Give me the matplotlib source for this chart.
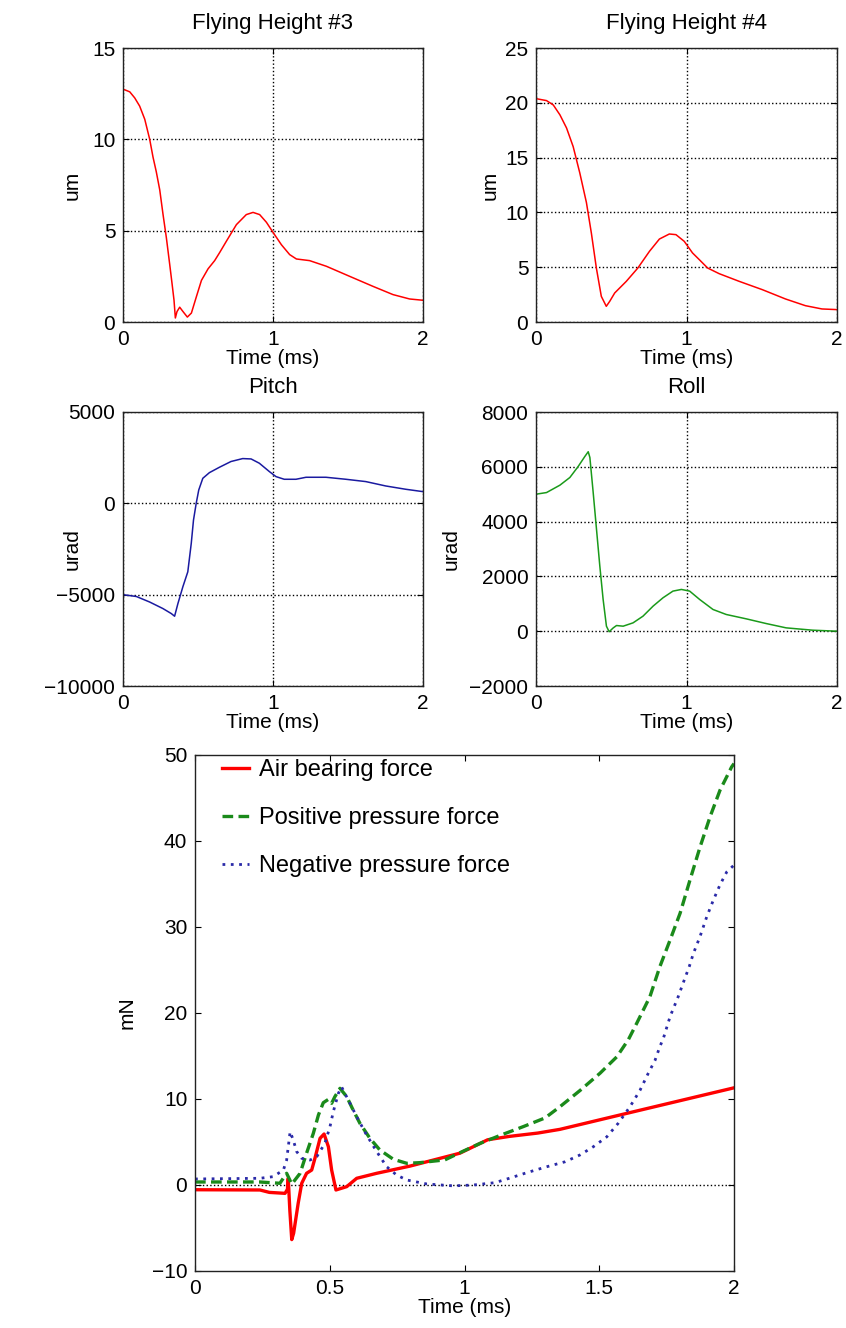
import numpy as np
import matplotlib
matplotlib.use('Agg')
import matplotlib.pyplot as plt

plt.rcParams['font.family'] = ['Liberation Sans', 'DejaVu Sans']
plt.rcParams['font.size'] = 15

# Flying height #3 (um)
t_fh3 = [0, 0.045, 0.078, 0.111, 0.145, 0.178, 0.2, 0.222, 0.245, 0.267, 0.289, 0.311, 0.327,
         0.34, 0.349, 0.36, 0.378, 0.4, 0.429, 0.456, 0.489, 0.523, 0.567, 0.611, 0.645,
         0.689, 0.756, 0.822, 0.867, 0.911, 0.956, 1.0, 1.056, 1.111, 1.156, 1.244, 1.356,
         1.511, 1.667, 1.8, 1.911, 2.0]
fh3 = [12.75, 12.6, 12.27, 11.82, 11.1, 10.0, 9.03, 8.22, 7.23, 5.88, 4.62, 3.18, 2.1,
       1.2, 0.22, 0.57, 0.81, 0.57, 0.27, 0.49, 1.38, 2.28, 2.91, 3.36, 3.81,
       4.42, 5.33, 5.88, 6.0, 5.88, 5.46, 4.91, 4.23, 3.69, 3.45, 3.36, 3.05,
       2.5, 1.95, 1.5, 1.26, 1.19]

# Flying height #4 (um)
t_fh4 = [0, 0.07, 0.115, 0.159, 0.203, 0.247, 0.291, 0.335, 0.368, 0.401, 0.434, 0.467, 0.49,
         0.523, 0.6, 0.677, 0.754, 0.82, 0.886, 0.93, 0.985, 1.04, 1.085, 1.14, 1.217, 1.35,
         1.504, 1.658, 1.79, 1.9, 2.0]
fh4 = [20.38, 20.2, 19.8, 18.9, 17.7, 16.0, 13.6, 10.9, 8.1, 4.93, 2.34, 1.43, 1.89,
       2.65, 3.71, 4.93, 6.45, 7.57, 8.03, 7.97, 7.36, 6.3, 5.69, 4.93, 4.41, 3.71,
       2.95, 2.1, 1.49, 1.19, 1.13]

# Pitch (urad)
t_pitch = [0, 0.089, 0.177, 0.266, 0.322, 0.344, 0.366, 0.399, 0.432, 0.455, 0.47, 0.488, 0.505,
           0.532, 0.576, 0.643, 0.72, 0.798, 0.854, 0.909, 0.976, 1.02, 1.075, 1.153, 1.22,
           1.353, 1.486, 1.619, 1.752, 1.885, 2.0]
pitch = [-5000, -5100, -5400, -5760, -6035, -6180, -5490, -4570, -3750, -2195, -914, 0, 730,
         1370, 1680, 1975, 2290, 2450, 2430, 2195, 1737, 1463, 1317, 1317, 1427,
         1427, 1317, 1190, 950, 770, 640]

# Roll (urad)
t_roll = [0, 0.07, 0.159, 0.225, 0.28, 0.325, 0.347, 0.358, 0.38, 0.402, 0.424, 0.446, 0.468,
          0.486, 0.513, 0.535, 0.579, 0.645, 0.711, 0.778, 0.844, 0.91, 0.966, 1.021, 1.087,
          1.176, 1.264, 1.397, 1.529, 1.662, 1.838, 2.0]
roll = [5000, 5060, 5330, 5610, 6010, 6380, 6550, 6340, 5060, 3720, 2380, 1160, 183,
        -20, 120, 207, 183, 305, 549, 915, 1220, 1463, 1524, 1463, 1160,
        793, 610, 451, 280, 122, 37, 0]

# Forces (mN)
t_air = [0, 0.241, 0.276, 0.334, 0.343, 0.346, 0.352, 0.359, 0.366, 0.383, 0.396, 0.414, 0.433,
         0.445, 0.464, 0.479, 0.495, 0.507, 0.523, 0.563, 0.6, 0.674, 0.798, 0.983, 1.086,
         1.166, 1.272, 1.354, 1.602, 2.0]
air = [-0.55, -0.58, -0.86, -0.97, -0.5, 0.78, -3.0, -6.35, -5.6, -2.1, 0.2, 1.36, 1.74,
       3.1, 5.43, 5.93, 4.45, 1.74, -0.58, -0.19, 0.78, 1.36, 2.2, 3.7, 5.26,
       5.65, 6.04, 6.47, 8.33, 11.3]

t_pos = [0, 0.241, 0.315, 0.34, 0.359, 0.39, 0.414, 0.439, 0.458, 0.476, 0.495, 0.507, 0.519,
         0.538, 0.563, 0.587, 0.612, 0.649, 0.686, 0.736, 0.786, 0.835, 0.927, 0.993, 1.06,
         1.139, 1.219, 1.299, 1.354, 1.429, 1.503, 1.565, 1.608, 1.639, 1.688, 1.725, 1.763,
         1.8, 1.837, 1.874, 1.911, 1.948, 1.991, 2.0]
pos = [0.35, 0.35, 0.2, 1.36, 0.1, 1.36, 3.7, 6.0, 8.14, 9.57, 9.96, 9.5, 10.27,
       11.24, 10.27, 8.7, 7.17, 5.43, 4.07, 2.99, 2.52, 2.6, 2.92, 3.9, 4.87,
       5.85, 6.8, 7.8, 9.1, 11.0, 13.0, 14.9, 16.9, 18.8, 21.9, 25.4, 28.5,
       31.6, 35.5, 39.3, 42.8, 45.9, 48.6, 49.0]

t_neg = [0, 0.241, 0.29, 0.328, 0.34, 0.353, 0.365, 0.377, 0.396, 0.427, 0.452, 0.482, 0.501,
         0.513, 0.532, 0.544, 0.575, 0.6, 0.637, 0.674, 0.711, 0.748, 0.786, 0.86, 0.958,
         1.033, 1.113, 1.166, 1.232, 1.299, 1.373, 1.429, 1.478, 1.528, 1.571, 1.614, 1.651,
         1.682, 1.707, 1.725, 1.738, 1.763, 1.793, 1.815, 1.834, 1.849, 1.874, 1.899, 1.923,
         1.948, 1.973, 2.0]
neg = [0.7, 0.78, 0.97, 1.74, 2.9, 6.2, 5.2, 3.9, 3.1, 2.9, 3.3, 4.85, 6.8,
       8.5, 10.66, 11.4, 9.5, 7.94, 5.8, 3.9, 2.13, 1.16, 0.58, 0.12, -0.1,
       0.0, 0.27, 0.78, 1.44, 2.07, 2.7, 3.5, 4.45, 5.6, 7.2, 9.1, 11.0,
       13.0, 14.5, 16.1, 17.06, 19.6, 21.9, 23.8, 25.4, 26.9, 28.9, 31.2, 33.1,
       34.9, 36.4, 37.2]

W, H = 846, 1328
fig = plt.figure(figsize=(W / 100, H / 100), dpi=100)


def add_ax(x0, y0, x1, y1):
    # pixel box (top-left origin) -> figure fraction
    return fig.add_axes([x0 / W, 1 - y1 / H, (x1 - x0) / W, (y1 - y0) / H])


def style(ax, ylab_x, grid=True):
    ax.tick_params(direction='in', top=True, right=True, length=4, pad=5.5, labelsize=15)
    for s in ax.spines.values():
        s.set_linewidth(1.0)
        s.set_color('#222222')
    if grid:
        ax.grid(True, linestyle=':', color='black', linewidth=1.0)
    ax.set_xlabel('Time (ms)', labelpad=0, fontsize=15)
    ax.yaxis.set_label_coords(ylab_x, 0.5)


ax1 = add_ax(123, 48, 423, 322)
ax1.plot(t_fh3, fh3, color='red', lw=1.1)
ax1.set_xlim(0, 2)
ax1.set_ylim(0, 15)
ax1.set_xticks([0, 1, 2])
ax1.set_yticks([0, 5, 10, 15])
ax1.set_ylabel('um')
ax1.set_title('Flying Height #3', pad=14, fontsize=16)
style(ax1, -0.137)

ax2 = add_ax(536, 48, 837, 322)
ax2.plot(t_fh4, fh4, color='red', lw=1.1)
ax2.set_xlim(0, 2)
ax2.set_ylim(0, 25)
ax2.set_xticks([0, 1, 2])
ax2.set_yticks([0, 5, 10, 15, 20, 25])
ax2.set_ylabel('um')
ax2.set_title('Flying Height #4', pad=14, fontsize=16)
style(ax2, -0.12)

ax3 = add_ax(123, 412, 423, 686)
ax3.plot(t_pitch, pitch, color='#1a1aa0', lw=1.1)
ax3.set_xlim(0, 2)
ax3.set_ylim(-10000, 5000)
ax3.set_xticks([0, 1, 2])
ax3.set_yticks([-10000, -5000, 0, 5000])
ax3.set_ylabel('urad')
ax3.set_title('Pitch', pad=14, fontsize=16)
style(ax3, -0.137)

ax4 = add_ax(536, 412, 837, 686)
ax4.plot(t_roll, roll, color='#1a9a1a', lw=1.1)
ax4.set_xlim(0, 2)
ax4.set_ylim(-2000, 8000)
ax4.set_xticks([0, 1, 2])
ax4.set_yticks([-2000, 0, 2000, 4000, 6000, 8000])
ax4.set_ylabel('urad')
ax4.set_title('Roll', pad=14, fontsize=16)
style(ax4, -0.252)

ax5 = add_ax(195, 755, 734, 1271)
ax5.axhline(0, color='black', linestyle=':', lw=1.0)
ax5.plot(t_air, air, color='red', lw=2.4, label='Air bearing force')
ax5.plot(t_pos, pos, color='#1a8a1a', lw=2.4, linestyle=(0, (3.2, 1.6)), label='Positive pressure force')
ax5.plot(t_neg, neg, color='#2a2aa8', lw=2.0, linestyle=(0, (1, 2)), label='Negative pressure force')
ax5.set_xlim(0, 2)
ax5.set_ylim(-10, 50)
ax5.set_xticks([0, 0.5, 1, 1.5, 2])
ax5.set_xticklabels(['0', '0.5', '1', '1.5', '2'])
ax5.set_yticks(range(-10, 51, 10))
ax5.set_ylabel('mN')
style(ax5, -0.108, grid=False)
ax5.legend(loc='upper left', bbox_to_anchor=(27 / 539, 1 - 4 / 516), frameon=False, fontsize=17,
           handlelength=1.15, labelspacing=1.1, borderaxespad=0, borderpad=0, handletextpad=0.4)

fig.savefig('out.png', dpi=100)
